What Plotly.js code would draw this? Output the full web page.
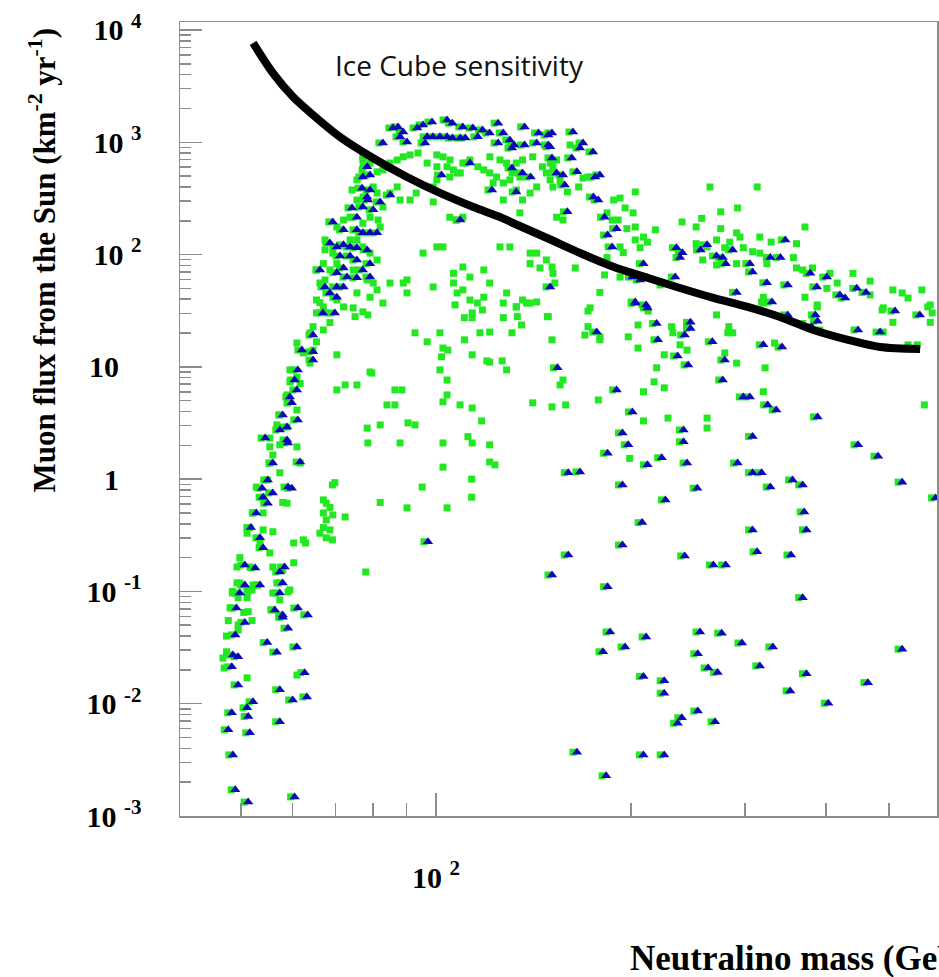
<!DOCTYPE html>
<html><head><meta charset="utf-8">
<script src="https://cdn.plot.ly/plotly-3.0.1.min.js"></script>
<style>html,body{margin:0;padding:0;background:#fff}#chart{width:939px;height:977px}</style>
</head><body><div id="chart"></div>
<script>
// Neutralino mass (GeV) and muon flux (km^-2 yr^-1) for models shown as green squares
const greenMass = [77.1,79.1,81.1,82.8,84.9,87.1,89,91.2,93.8,100.3,102.5,105.1,96.9,100.3,104,106.4,107.8,110,112.8,121.1,125.5,128.5,133,136,141,146,150,153.5,116,118.5,121,124,127,130,122.5,131,134.7,148,150,151.5,143,139.7,133,136,134.7,127,109,105,100.3,99,93.2,91.2,87.1,84.9,88,99,105,107.5,110,153.5,
77.1,76.9,75.5,74.2,75.5,80,81.1,82.8,79.1,81.4,73.7,72,70.3,77.1,82,67.4,67.4,69.3,73.7,75.5,77.1,79.1,81.1,70.3,67,65.4,68.6,74.5,78.3,80,81.1,66.2,67.4,65.4,67,70.3,72,75.5,79.1,84.9,89,90.2,95.5,100.3,102.5,110,112.8,118.5,121,125.5,130,139.7,143,139.7,144.7,148,151.5,106.4,106.4,107.8,110,112.8,115.8,118.5,136,139.7,133,128.5,127,99,90.2,82.8,
161,151.5,155.4,159.5,166,168.6,171.6,157,203,188,192.3,195.8,183.6,187,191,197,201.4,203,209,212,218,203,206.5,192.3,194.5,183.6,182,164,151,152.5,179,264.7,313,275,292,257,239.7,252,275,291,294.5,316,329,252,262,271,284,279,298,308,316,258,271,291,324,356,360,371,360,368,381,405.5,416,440,467.6,401,467.6,507,524,535,562,579,490,320,320,371,387.5,221.7,192.3,172.9,
66.2,67.7,65.4,68.6,64.6,67,63.9,65.4,61,62.4,64.6,63.9,59.5,61,59.5,61.7,58.9,58.9,61,57.4,56.8,58.9,55.4,55.4,57.4,61,56,55.4,61.7,57.4,54.9,52.8,54.1,58,58.9,52.2,54.1,51.6,51.1,54.1,56,53.5,55.4,49.8,49.3,51.6,56,58,60.3,49.3,51.1,52.2,56.8,48.5,51.1,56,59.5,
70.3,70.3,72.4,75.5,79.1,74.5,77.1,78.5,75,92.8,96.9,101.4,102.5,104.3,102,101.4,104,107,110.6,113.7,113.7,117.9,116.9,121,110.6,113.7,119.8,121,126.5,128.5,127,133,133.5,135.5,131,137.9,143,149,151,141,151,158.5,157,155.4,88.6,86.4,104,102.5,108.9,113.7,84,86.4,78.3,82,90.5,92.8,78.5,88,102.5,112,113.7,121,117.6,102.5,121,123.3,113.5,113.5,95.2,82,90.2,104,69.2,69.8,79.6,77.9,
67,67.7,68.6,67,69.3,67.7,67,68.6,66.2,67.7,69.2,72.4,60.3,62.9,62.4,
148.5,171.6,171.6,169.7,179,179,198,205,205,212.5,231,232,238,244,225,219,217,225,209,178,271,283,282,287,279,291,322,320,333,318,387.5,488,507,579,583,574,368,391,490,535,553,567,209,228,262,262,199,
49.8,48.5,51.1,52,49.5,48.1,50.5,51.3,47.8,52,49.5,49.5,47.5,46.9,47.5,47.1,51.1,57.4,59.1,55.8,57.4,61,53.1];
const greenFlux = [742,653,545,567,653,696,742,771,802,771,742,696,653,605,605,567,533,653,696,742,696,653,653,696,742,605,653,696,605,567,533,490,434,462,434,533,490,533,462,400,400,353,376,306,235,306,533,490,462,400,353,306,400,353,306,294,215,203,215,215,
696,567,462,376,306,400,353,265,215,203,215,203,176,190,176,135,110,103,135,135,117,103,89.5,83,83,72.9,72.9,72.9,59.4,55.8,48.4,55.8,59.4,39.4,34.2,39.4,34.2,45.5,41.7,55.8,55.8,59.4,103,117,117,77.5,63,72.9,55.8,117,117,103,103,83,76,89.5,68,68,55.8,45.5,48.4,39.4,37,41.7,39.4,37,34.2,45.5,37,51.5,45.5,37,
946,605,462,361,400,480,490,203,361,306,318,260,235,203,203,170,235,176,143,129,166,135,115,117,104,94,65.8,76,77.5,55.8,46,400,400,240,260,210,195,176,170,156,143,143,129,125,117,135,129,115,115,106,103,89.5,80.8,83,83,94,125,176,76,72.9,76,68,55.8,68,58,50,43.7,48.4,45.5,41,48.4,35.6,33.5,41.7,37,41.7,35.6,53.6,63,33.5,
37.3,30.2,30.2,24.8,22.8,21.3,20.1,16.7,16.3,13.3,14.1,10.8,9.39,8.1,7.35,7.1,5.62,4.78,4.13,3.73,3.04,2.91,2.32,1.94,2.02,1.94,1.64,1.39,1.39,1.14,0.984,0.85,0.69,0.62,0.61,0.5,0.5,0.37,0.33,0.353,0.34,0.27,0.22,0.2,0.165,0.165,0.165,0.155,0.18,0.119,0.103,0.114,0.119,0.0968,0.088,0.0968,0.103,
12.8,6.23,6.9,6.9,9.0,33.5,30.9,29,28,20.1,16.7,20.1,14.7,14.1,12.3,9.39,7.64,35.6,27.4,30.2,27.4,32.1,20.1,20.4,17.4,12.8,11.3,11,11.3,9.39,27.4,34.2,28,23.6,20.1,37,37.8,28,17.4,4.78,4.4,4.58,7.64,6.9,6.23,6.23,5.62,4.88,4.58,4.3,4.58,4.58,2.85,3.04,3.17,3.04,2.1,2.1,2.1,2.39,2.1,2.02,3.3,1.28,1.42,1.34,1.0,0.69,0.85,0.62,0.555,0.555,0.888,0.93,8.8,0.149,
0.653,0.61,0.56,0.5,0.48,0.433,0.37,0.353,0.33,0.30,0.288,0.46,0.27,0.27,0.288,
28,31.4,22.8,19.2,18.5,17.4,18.5,23.6,14.7,31.4,22.8,20.1,15.7,14.1,12.8,9.8,7.35,6.5,6.0,5.07,29,22.8,20.1,20.1,13.3,10.8,9.8,6.0,16.3,37.8,34.2,32.1,24.9,24.9,30.2,34.2,24.3,21.3,20.4,15.7,15.7,4.58,3.3,3.5,3.5,2.85,1.53,
0.119,0.10,0.0968,0.103,0.088,0.0715,0.065,0.066,0.055,0.055,0.0503,0.0454,0.040,0.0255,0.029,0.0208,0.017,0.084,0.099,0.0684,0.059,0.018,0.114];

// Models shown as blue triangles (each drawn over a green square)
const blueMass = [85.8,87.4,89.0,93.5,95.5,98.6,104,106,110,114,118,121,124.7,127,137,144,149,96.9,98.9,101.4,104,106,109,111,116,88,90.2,82.8,96.2,124.7,130,132,137,143,149,131,112.8,131,136,140,122,133,102,109,85,150,
78.3,79.1,77.1,76.9,79.1,78.3,78.5,82,77.1,74.2,75.5,80,69.3,72,75.5,77.1,79.1,81.1,68.6,70.3,72,73.7,75.5,78.3,71.1,73.7,75.5,79.1,72,70.3,72.9,75.5,77.1,67.4,70.3,72,68.6,70.3,66.2,79.1,
162.7,151,150,168.6,166.8,174.7,162,151,153.5,157,165,176,179,158,175,178,182,159.5,184,190,187,209,206.5,201,234,235,240,238,262,256,271,277,280,287,305,308,328,340,346,324,349,378,387,401,420,428,446,461,203,211,291,330,
66.9,69.8,64.6,62.1,64.6,64.6,61.2,60.5,61,59.5,59.9,58,61.2,58.9,57.4,58.9,59.1,54.5,56,55,61.7,59.1,59.9,56,53.9,54.1,55,52.8,51.8,53.5,54.1,50.7,52.6,58.4,57.4,58,50.7,53.5,49.8,57.4,97.2,154,160,160,151,
203,212,219,247,247,242,220,177,267,236,245,279,277,320,342,349,385,388,380,448,484.5,511,558,190,298,305,325,335,388,201,194,198,184,
166.8,194,212,223,244,253,241,241,308,292,308,318,328,355,368,448,481,524,590,226,208,308,373,370,194,242,313,353,268,280,184,368,
49.2,56.4,61.2,63.4,58,58,50.7,59.1,49,54.9,56.8,61,48.6,49.5,48.4,62.7,49.5,57.4,63.2,60.1,52.2,51.1,48.4,51.3,57.4,47.8,51.6,48.6,49,51.3,60.5,
185.6,211,255.5,276,296.6,331,524,181,195.8,253.5,263,272,316,373,464,209,225,225,352,403,253.5,239.5,236,269.5,165,209,225,183];
const blueFlux = [1340,1370,1235,1340,1426,1515,1580,1480,1370,1340,1287,1210,1480,1210,1370,1210,1161,1117,1117,1117,1117,1090,1090,1090,1117,1117,1006,985,985,985,1048,946,946,985,946,888,653,590,533,490,376,361,511,203,339,51.5,
605,511,490,390,376,326,306,294,265,260,215,250,195,166,166,156,156,156,127,117,122,117,115,110,97,97,89.5,83,76,69,63,62,72.9,51.5,51.5,51.5,45.5,41.7,72.9,63,
1235,1210,910,985,888,820,725,725,533,511,545,490,511,417,326,306,215,240,149,170,117,83,59.4,63,63,115,104,94,122,110,97,94,83,110,83,70,94,94,135,56,53.6,68,51.5,63,43.7,41,50,46,37.8,35.6,46,37.8,
30.2,30.2,19.2,14.1,13.6,11.5,9.39,7.64,6.23,5.4,4.78,3.73,3.37,2.91,2.74,2.23,2.1,2.32,1.39,0.984,1.42,0.85,0.83,0.754,0.83,0.69,0.61,0.5,0.37,0.30,0.245,0.172,0.162,0.165,0.149,0.119,0.114,0.114,0.0968,0.0968,0.277,9.8,1.14,0.211,0.140,
36.8,33.5,24.3,24.9,22,19.2,17.4,20.4,16.7,12.5,10.4,11.5,7.64,15.7,15,29,29,25.5,22.8,21.3,20.4,31.4,29,6.23,5.4,5.4,4.58,4.13,3.58,3.97,2.58,2.02,1.7,
1.16,0.888,1.34,1.55,1.39,0.83,2.74,2.15,2.4,1.39,1.14,1.14,0.85,0.984,0.888,2.02,1.6,0.94,0.68,0.653,0.41,0.353,0.353,0.51,0.259,0.207,0.225,0.211,0.172,0.172,0.11,0.088,
0.071,0.0684,0.071,0.0618,0.0618,0.059,0.053,0.047,0.041,0.035,0.0288,0.032,0.0272,0.0262,0.0213,0.0189,0.0147,0.0133,0.0115,0.0108,0.0104,0.0092,0.0083,0.0077,0.0069,0.00585,0.0055,0.0035,0.00171,0.00133,0.00148,
0.0435,0.0393,0.0435,0.0425,0.0347,0.032,0.0306,0.029,0.032,0.0278,0.0208,0.019,0.0217,0.0185,0.0154,0.0175,0.016,0.0124,0.013,0.0101,0.0086,0.0075,0.0067,0.0069,0.0037,0.0035,0.0035,0.00228];

// Ice Cube sensitivity curve
const curveMass = [52.2,56.0,60.2,64.6,71.1,79.9,90.2,101.4,114.2,125.5,131.4,148.3,166.8,188.2,212.5,237.9,267.9,302.6,339.5,382.4,432.3,484.5,558.5];
const curveFlux = [7660,4140,2530,1750,1114,725,491,354,265,216,191,140.5,103.3,77.5,61.9,50.4,41.1,34.2,27.8,21.3,17.4,15.0,14.4];

// Axis ticks
const xTickVals = [100];
const xTickText = ['10 <sup>2</sup>'];
const xMinorVals = [50,60,70,80,90,200,300,400,500];
const yTickVals = [1e-3,1e-2,1e-1,1,10,100,1e3,1e4];
const yTickText = ['10 <sup>-3</sup>','10 <sup>-2</sup>','10 <sup>-1</sup>','1\u00a0\u00a0\u00a0','10\u00a0\u00a0\u00a0','10 <sup>2</sup>','10 <sup>3</sup>','10 <sup>4</sup>'];
const yMinorVals = [];
for (let e = -3; e <= 3; e++) for (let m = 2; m <= 9; m++) yMinorVals.push(+(m * Math.pow(10, e)).toPrecision(3));

const GREEN = 'rgb(34,232,34)';
const BLUE = 'rgb(8,8,185)';
const AXC = '#8c8c8c';
const xr = [1.6049, 2.7731];
const shadowShift = 0.0062;   // draws the square behind each triangle a few pixels to the left

const traces = [
  {type:'scatter', mode:'markers', x:blueMass, y:blueFlux, xaxis:'x', yaxis:'y',
   marker:{symbol:'square', size:7, color:GREEN, line:{width:0}}, hoverinfo:'skip'},
  {type:'scatter', mode:'markers', x:greenMass, y:greenFlux, xaxis:'x2', yaxis:'y',
   marker:{symbol:'square', size:7, color:GREEN, line:{width:0}}, hoverinfo:'skip'},
  {type:'scatter', mode:'markers', x:blueMass, y:blueFlux, xaxis:'x2', yaxis:'y',
   marker:{symbol:'triangle-up', size:9, color:BLUE, line:{width:0}}, hoverinfo:'skip'},
  {type:'scatter', mode:'lines', x:curveMass, y:curveFlux, xaxis:'x2', yaxis:'y',
   line:{color:'#000', width:8, shape:'spline', smoothing:0.8}, hoverinfo:'skip'}
];

const tickFont = {family:'Liberation Serif, Times New Roman, serif', size:30, color:'#000', weight:'bold'};

const layout = {
  width:939, height:977,
  margin:{l:180, r:2, t:22, b:161},
  paper_bgcolor:'#fff', plot_bgcolor:'#fff',
  showlegend:false,
  xaxis:{type:'log', range:[xr[0]+shadowShift, xr[1]+shadowShift], visible:false, showgrid:false, zeroline:false},
  xaxis2:{type:'log', overlaying:'x', anchor:'y', side:'bottom', range:xr, showgrid:false, zeroline:false,
    showline:true, mirror:true, linecolor:AXC, linewidth:1.5,
    ticks:'inside', ticklen:23, tickwidth:1.5, tickcolor:AXC,
    tickmode:'array', tickvals:xTickVals, ticktext:xTickText, tickfont:tickFont,
    ticklabelstandoff:34,
    minor:{tickmode:'array', tickvals:xMinorVals, ticks:'inside', ticklen:13, tickwidth:1.5, tickcolor:AXC, showgrid:false}},
  yaxis:{type:'log', range:[-3, 4.071], showgrid:false, zeroline:false,
    showline:true, mirror:true, linecolor:AXC, linewidth:1.5,
    ticks:'inside', ticklen:22, tickwidth:1.5, tickcolor:AXC,
    tickmode:'array', tickvals:yTickVals, ticktext:yTickText, tickfont:tickFont,
    ticklabelstandoff:31,
    minor:{tickmode:'array', tickvals:yMinorVals, ticks:'inside', ticklen:11, tickwidth:1.5, tickcolor:AXC, showgrid:false}},
  annotations:[
    {xref:'paper', yref:'paper', x:0.2021, y:0.9458, xanchor:'left', yanchor:'middle',
     text:'Ice Cube sensitivity', showarrow:false,
     font:{family:'Open Sans, sans-serif', size:28, color:'#111'}},
    {xref:'paper', yref:'paper', x:-0.182, y:0.700, xanchor:'center', yanchor:'middle',
     textangle:-90, showarrow:false,
     text:'Muon flux from the Sun (km<sup>-2</sup> yr<sup>-1</sup>)',
     font:{family:'Liberation Serif, Times New Roman, serif', size:31, color:'#000', weight:'bold'}},
    {xref:'paper', yref:'paper', x:0.592, y:-0.179, xanchor:'left', yanchor:'middle',
     showarrow:false, text:'Neutralino mass (GeV)',
     font:{family:'Liberation Serif, Times New Roman, serif', size:35, color:'#000', weight:'bold'}}
  ]
};

Plotly.newPlot('chart', traces, layout, {displayModeBar:false, staticPlot:true});
</script>
</body></html>
